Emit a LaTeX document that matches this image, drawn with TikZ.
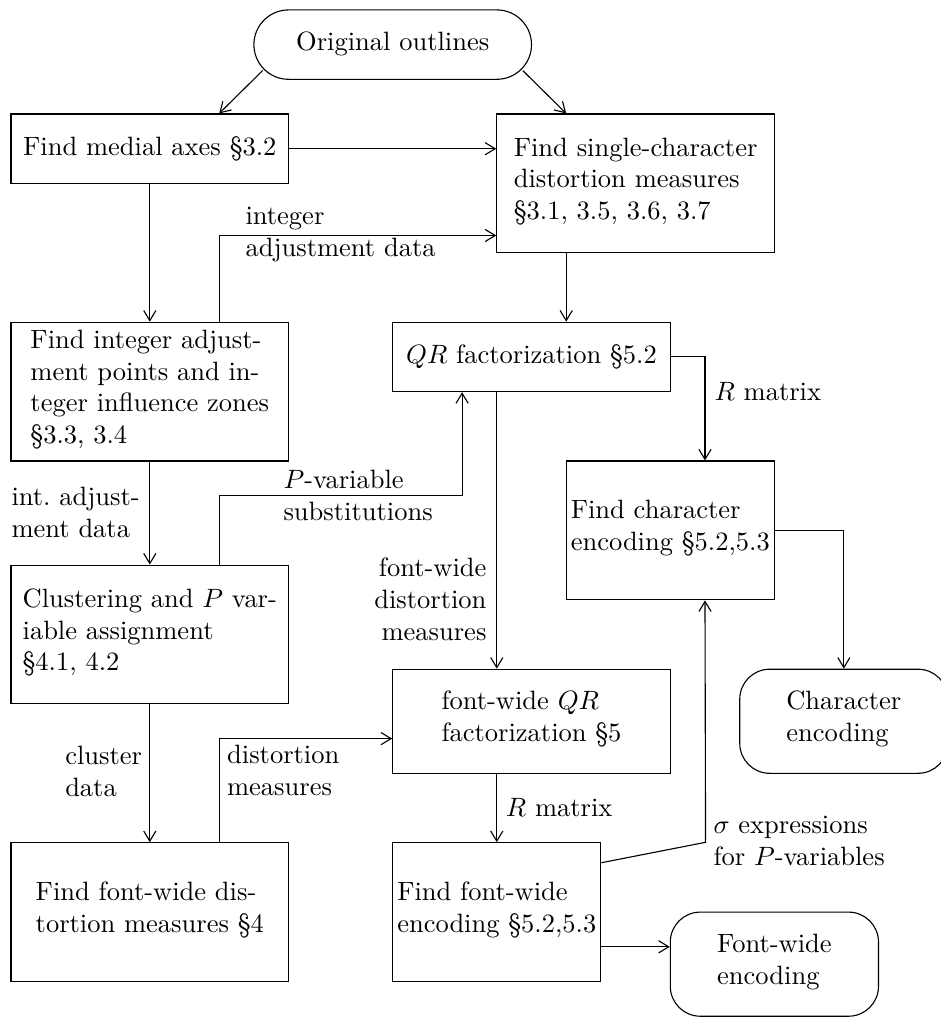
\documentclass[tikz,border=0pt]{standalone}
\usetikzlibrary{arrows.meta}
\def\pxu{0.3774pt}
\begin{document}
\begin{tikzpicture}[x=\pxu, y=-\pxu, line width=0.42pt,
  box/.style={draw, rectangle, inner sep=0pt, align=left,
    execute at begin node=\strut, execute at end node=\strut},
  term/.style={box, rounded corners=11.3pt},
  wide/.style={minimum width=104.77pt},
  narrow/.style={minimum width=78.57pt},
  htwo/.style={minimum height=26.19pt},
  hthree/.style={minimum height=39.29pt},
  hfour/.style={minimum height=52.38pt},
  arr/.style={-{Straight Barb[length=3.8pt,width=4.6pt]}},
  lbl/.style={inner sep=0pt, align=left, anchor=base west}]
\useasboundingbox (0,0) rectangle (940,1017);

% terminals
\node[term, rounded corners=13.09pt, wide, htwo] (orig) at (392.7,44.6) {Original outlines};
\node[term, narrow, hthree] (charenc) at (843.85,721.25) {Character\\encoding};
\node[term, narrow, hthree] (fwout) at (774.4,964.15) {Font-wide\\encoding};

% process boxes
\node[box, wide, htwo] (medial) at (149.8,148.7) {Find medial axes \S3.2};
\node[box, wide, hfour] (single) at (635.6,183.4) {Find single-character\\distortion measures\\\S3.1, 3.5, 3.6, 3.7};
\node[box, wide, hfour] (integ) at (149.8,391.6) {Find integer adjust-\\ment points and in-\\teger influence zones\\\S3.3, 3.4};
\node[box, wide, htwo] (qr) at (531.5,356.9) {$QR$ factorization \S5.2};
\node[box, narrow, hfour] (fchar) at (670.3,530.4) {Find character\\encoding \S5.2,5.3};
\node[box, wide, hfour] (clust) at (149.8,634.5) {Clustering and $P$ var-\\iable assignment\\\S4.1, 4.2};
\node[box, wide, hthree] (fwqr) at (531.5,721.25) {font-wide $QR$\\factorization \S5};
\node[box, wide, hfour] (fwdist) at (149.8,912.1) {Find font-wide dis-\\tortion measures \S4};
\node[box, narrow, hfour] (fwenc) at (496.8,912.1) {Find font-wide\\encoding \S5.2,5.3};

% connectors
\draw[arr] ([shift={(9.3,-9.3)}]orig.south west) -- ([shift={(69.4,0)}]medial.north);
\draw[arr] ([shift={(-9.3,-9.3)}]orig.south east) -- ([shift={(-69.4,0)}]single.north);
\draw[arr] (medial.east) -- (medial.east -| single.west);
\draw[arr] (medial.south) -- (integ.north);
\draw[arr] ([shift={(69.4,0)}]integ.north) |- ([shift={(0,52.1)}]single.west);
\draw[arr] ([shift={(-69.4,0)}]single.south) -- ([shift={(34.7,0)}]qr.north);
\draw[arr] (qr.east) -| ([shift={(34.7,0)}]fchar.north);
\draw[arr] (integ.south) -- (clust.north);
\draw[arr] ([shift={(69.4,0)}]clust.north) |- ++(0,-69.4) -| ([shift={(-69.4,0)}]qr.south);
\draw[arr] ([shift={(-34.7,0)}]qr.south) -- ([shift={(-34.7,0)}]fwqr.north);
\draw[arr] (fchar.east) -| (charenc.north);
\draw[arr] (clust.south) -- (fwdist.north);
\draw[arr] ([shift={(69.4,0)}]fwdist.north) |- ([shift={(0,17.35)}]fwqr.west);
\draw[arr] (fwqr.south -| fwenc.north) -- (fwenc.north);
\draw[arr] ([shift={(0,-49.4)}]fwenc.east) -- ++(104.1,-20.4) -- ([shift={(34.7,0)}]fchar.south);
\coordinate (fo) at ([shift={(0,34.7)}]fwenc.east);
\draw[arr] (fo) -- (fo -| fwout.west);

% connector labels (anchored at the baseline of the last line)
\node[lbl] (l1) at (245,256.7) {integer\\adjustment data};
\node[lbl] (l2) at (11,537.3) {int.\ adjust-\\ment data};
\node[lbl] (l3) at (283,520) {$P$-variable\\substitutions};
\node[lbl] (l4) at (714,400) {$R$ matrix};
\node[lbl, anchor=base east, align=right] (l5) at (487,640) {font-wide\\distortion\\measures};
\node[lbl] (l6) at (64.7,796.7) {cluster\\data};
\node[lbl] (l7) at (226.6,795) {distortion\\measures};
\node[lbl] (l8) at (505.4,816.7) {$R$ matrix};
\node[lbl] (l9) at (713,865) {$\sigma$ expressions\\for $P$-variables};
\end{tikzpicture}
\end{document}
